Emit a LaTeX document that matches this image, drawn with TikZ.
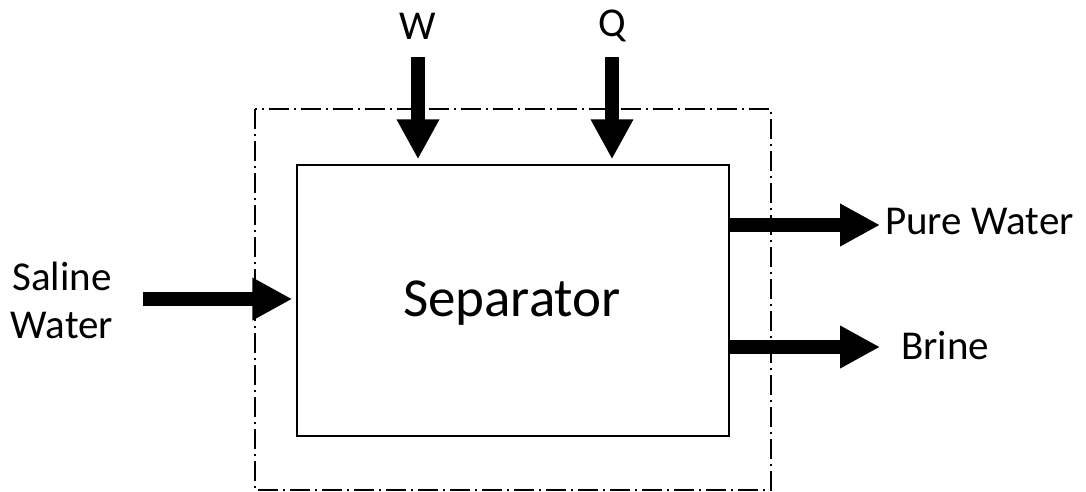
\documentclass[tikz,border=0pt]{standalone}
\usepackage{fontspec}
\setmainfont{Carlito}
\usetikzlibrary{arrows.meta}
\tikzset{
  flow/.style={line width=14pt, -{Triangle[length=40pt,width=40pt]}},
  boundary/.style={line width=1.4pt, dash pattern=on 20pt off 5pt on 2pt off 5pt},
  lbl/.style={font=\fontsize{41}{48}\selectfont, inner sep=0pt},
  sepbox/.style={draw, line width=1.5pt, minimum width=432pt, minimum height=271pt},
  septext/.style={font=\fontsize{55}{60}\selectfont, inner sep=0pt}
}
\begin{document}
\begin{tikzpicture}[x=1pt,y=-1pt]
\useasboundingbox (0,0) rectangle (1086,491);
\draw[boundary] (255,109) rectangle (771,490);
\node[sepbox] (sep) at (513,300.5) {};
\node[septext] (septxt) at (512,303) {Separator};
\node[lbl] (W) at (418,26) {W};
\node[lbl] (Q) at (612,26) {Q};
\node[lbl, anchor=west] (pure) at (885,221) {Pure Water};
\node[lbl, anchor=west] (brine) at (901,346) {Brine};
\node[lbl, align=center] (saline) at (62,300) {Saline\\Water};
\coordinate (win) at (418,57);
\coordinate (qin) at (612,57);
\coordinate (sin) at (143,299);
\coordinate (pout) at (880,225);
\coordinate (bout) at (880,347);
\draw[flow, shorten >=5pt] (win) -- (win |- sep.north);
\draw[flow, shorten >=5pt] (qin) -- (qin |- sep.north);
\draw[flow, shorten >=4pt] (sin) -- (sin -| sep.west);
\draw[flow] (pout -| sep.east) -- (pout);
\draw[flow] (bout -| sep.east) -- (bout);
\end{tikzpicture}
\end{document}
